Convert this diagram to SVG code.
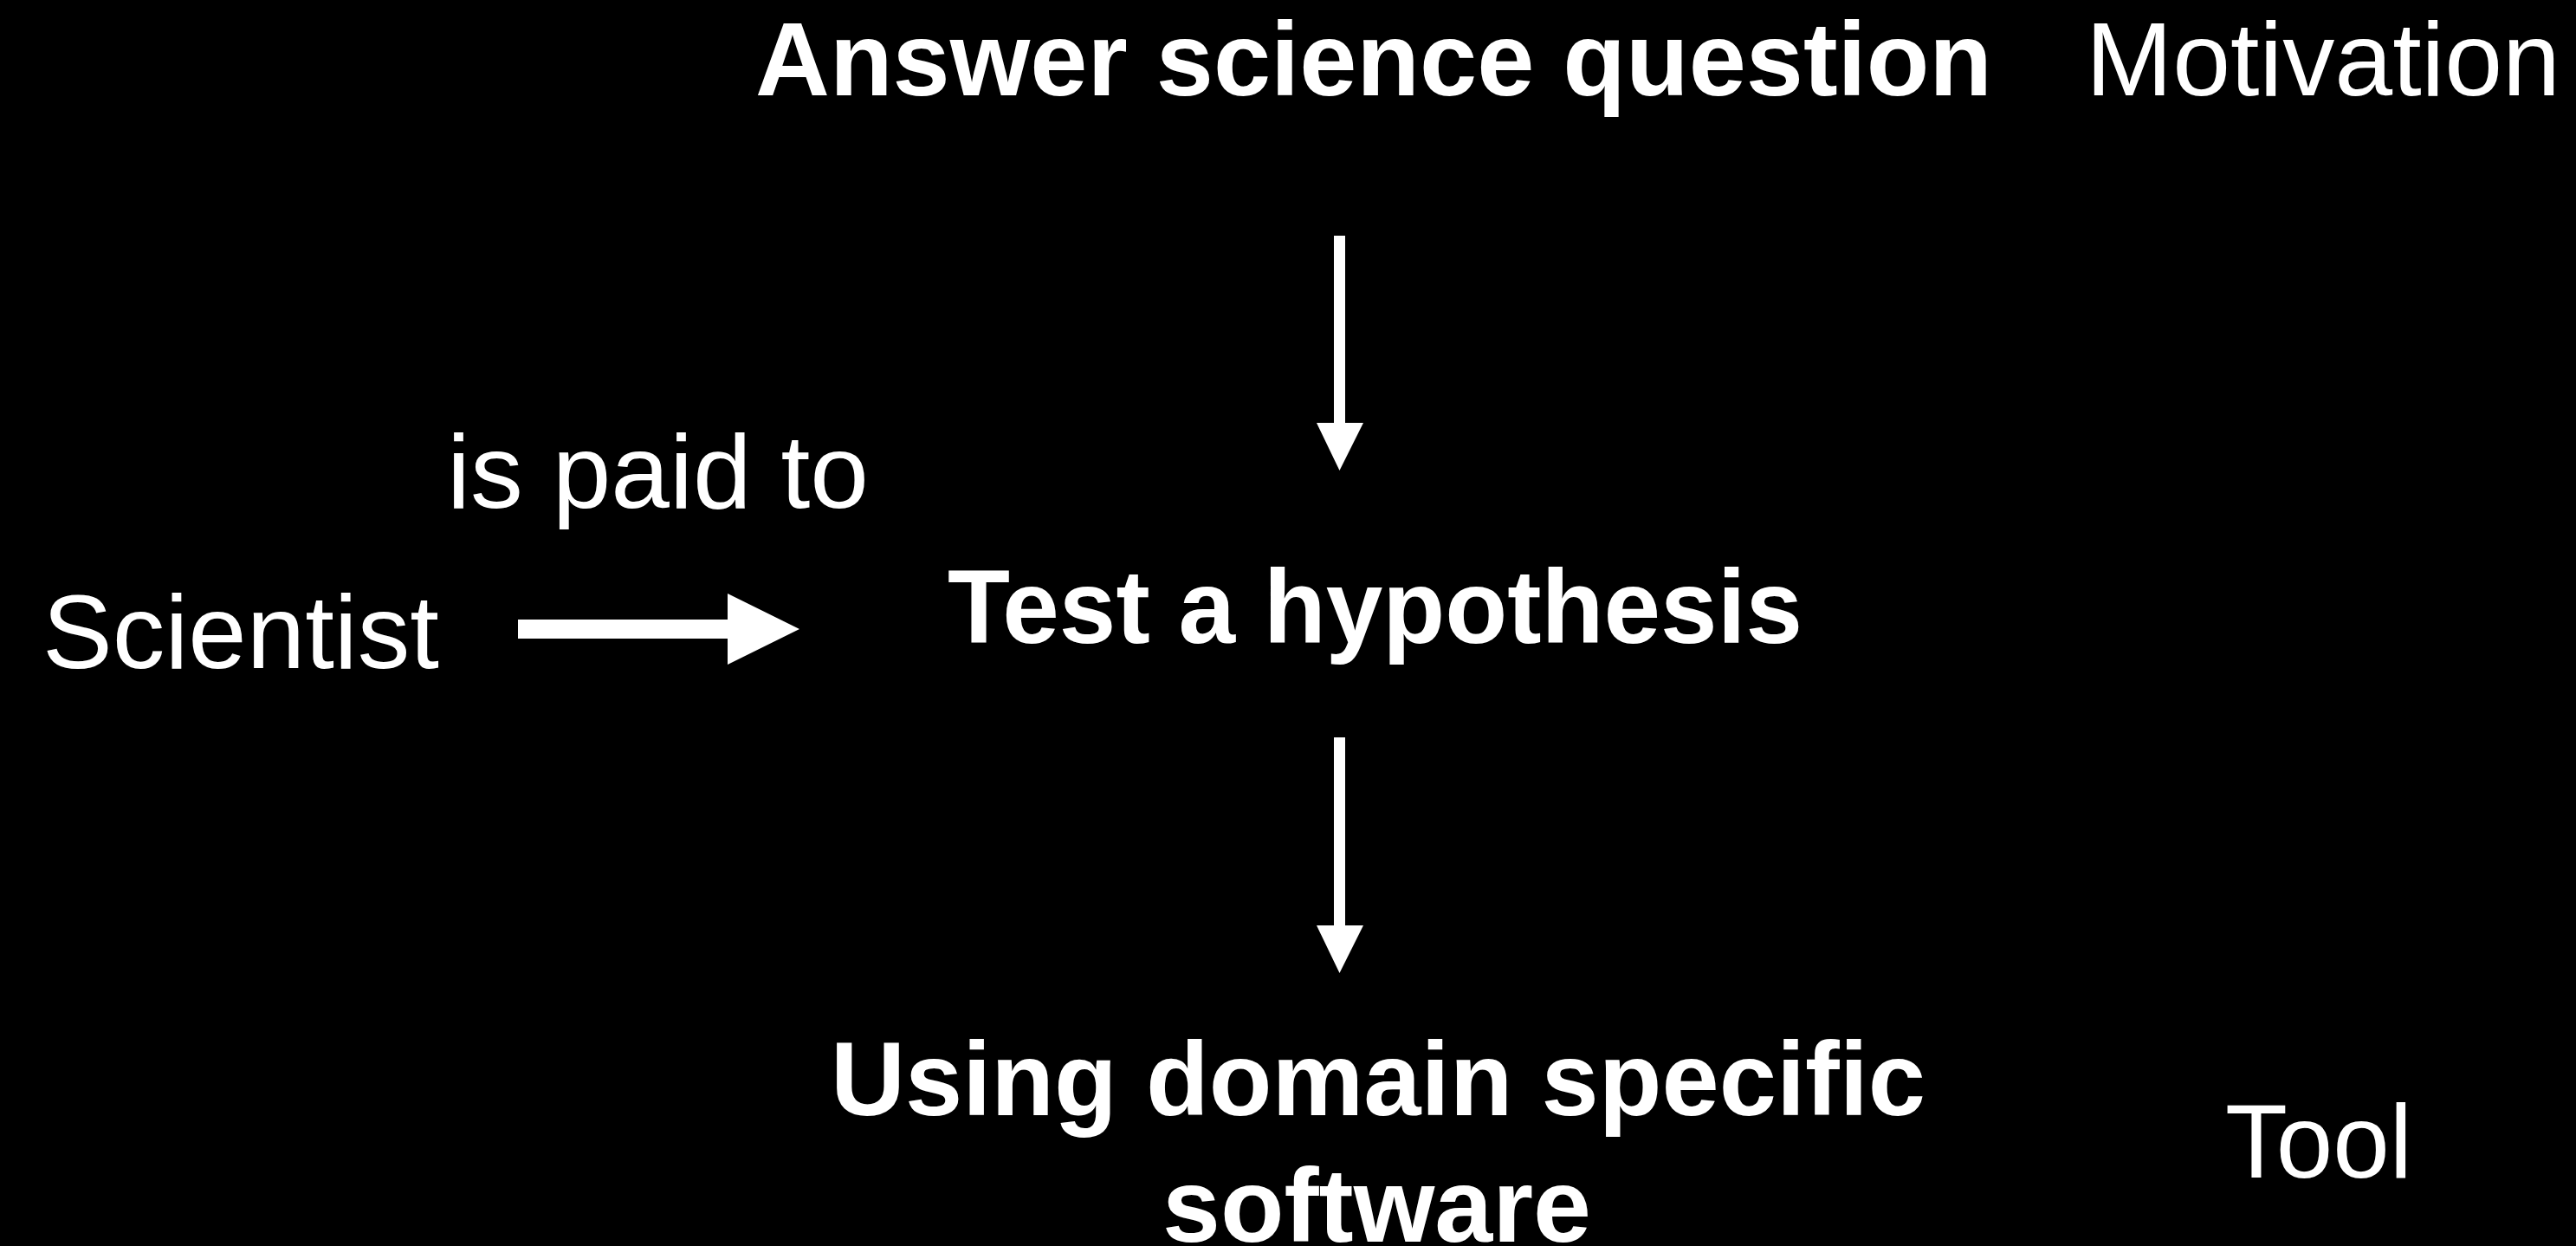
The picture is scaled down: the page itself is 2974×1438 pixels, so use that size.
<svg xmlns="http://www.w3.org/2000/svg" width="2974" height="1438" viewBox="0 0 2974 1438">
<style>
  text { fill: #ffffff; font-family: "Liberation Sans", Arial, sans-serif; font-size: 120px; }
  .b { font-weight: bold; }
  .arrow { fill: #ffffff; }
</style>
<rect x="0" y="0" width="2974" height="1438" fill="#000000"/>
<g id="node-answer"><text class="b" x="872" y="110" textLength="1428" lengthAdjust="spacingAndGlyphs">Answer science question</text></g>
<g id="label-motivation"><text x="2408" y="110" textLength="548" lengthAdjust="spacingAndGlyphs">Motivation</text></g>
<g id="node-scientist"><text x="49" y="771" textLength="458" lengthAdjust="spacingAndGlyphs">Scientist</text></g>
<g id="label-paid"><text x="516" y="586" textLength="487" lengthAdjust="spacingAndGlyphs">is paid to</text></g>
<g id="node-test"><text class="b" x="1094" y="742" textLength="987" lengthAdjust="spacingAndGlyphs">Test a hypothesis</text></g>
<g id="node-software">
  <text class="b" x="959" y="1287" textLength="1264" lengthAdjust="spacingAndGlyphs">Using domain specific</text>
  <text class="b" x="1342" y="1433" textLength="495" lengthAdjust="spacingAndGlyphs">software</text>
</g>
<g id="label-tool"><text x="2569" y="1359" textLength="216" lengthAdjust="spacingAndGlyphs">Tool</text></g>
<g id="connectors">
  <polygon class="arrow" points="598,715 840,715 840,685 923,726 840,767 840,737 598,737"/>
  <polygon class="arrow" points="1540,272 1553,272 1553,488 1574,488 1546.5,543 1520,488 1540,488"/>
  <polygon class="arrow" points="1540,851 1553,851 1553,1068 1574,1068 1546.5,1123 1520,1068 1540,1068"/>
</g>
</svg>
